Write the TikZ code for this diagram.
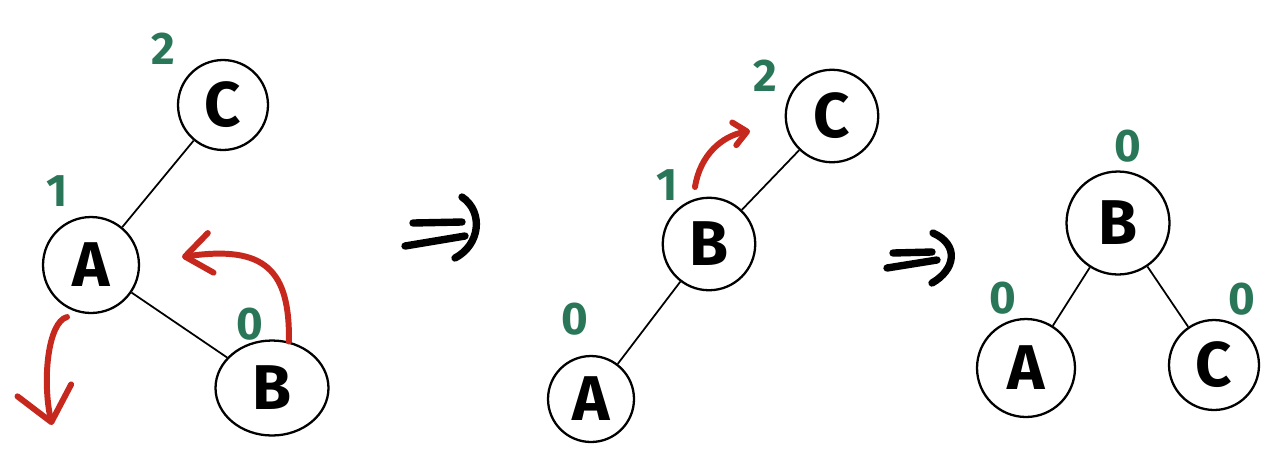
\documentclass[tikz,border=0pt]{standalone}
\usepackage{fontspec}
\setmainfont{Fira Sans}
\usepackage{xcolor}
\usetikzlibrary{arrows.meta,shapes.geometric}
\definecolor{hgreen}{RGB}{42,118,88}
\definecolor{hred}{RGB}{198,40,30}

\begin{document}
\begin{tikzpicture}[x=0.02cm,y=-0.02cm,
  vtx/.style={draw,circle,inner sep=0pt,line width=1.3pt,
    font=\fontsize{36}{36}\selectfont\bfseries},
  edge/.style={line width=1pt},
  hgt/.style={text=hgreen,inner sep=0pt,
    font=\fontsize{26}{26}\selectfont\bfseries},
  rot/.style={hred,line width=3.4pt,line cap=round},
  impl/.style={line width=4.2pt,line cap=round}]
\useasboundingbox (0,0) rectangle (1280,464);
% before: A is left heavy, its right child B
\node[vtx,minimum size=1.8cm] (c1) at (223,105) {C};
\node[vtx,minimum size=1.92cm] (a1) at (91,265) {A};
\node[vtx,ellipse,minimum width=2.26cm,minimum height=1.9cm] (b1) at (272,388) {B};
\draw[edge] (a1)--(c1); \draw[edge] (a1)--(b1);
\node[hgt] (h2c1) at (163,49) {2};
\node[hgt] (h1a1) at (57,191) {1};
\node[hgt] (h0b1) at (250,324) {0};
\coordinate (tipb1) at (182,257);
\coordinate (srca1) at (67,317);
\coordinate (tipa1) at (52,425);
\draw[rot,-{Straight Barb[round,length=5.2mm,width=8mm]}]
  (b1.70) .. controls (290,270) and (265,245) .. (tipb1);
\draw[rot,-{Straight Barb[round,length=6.5mm,width=11mm]}]
  (srca1) .. controls (48,322) and (42,380) .. (tipa1);
% first implication
\draw[impl] (413,223) -- (462,222);
\draw[impl] (405,246) -- (465,236);
\draw[impl] (462,197) .. controls (484,212) and (480,245) .. (455,258);
% middle: left-left chain
\node[vtx,minimum size=1.85cm] (c2) at (832,116) {C};
\node[vtx,minimum size=1.85cm] (b2) at (709,244) {B};
\node[vtx,minimum size=1.72cm] (a2) at (591,399) {A};
\draw[edge] (b2)--(c2); \draw[edge] (a2)--(b2);
\node[hgt] (h2c2) at (765,76) {2};
\node[hgt] (h1b2) at (667,185) {1};
\node[hgt] (h0a2) at (575,319) {0};
\coordinate (srcb2) at (695,187);
\coordinate (tipb2) at (750,131);
\draw[rot,-{Straight Barb[round,length=2.6mm,width=4.6mm]}]
  (srcb2) .. controls (700,155) and (722,136) .. (tipb2);
% second implication
\draw[impl] (893,253) -- (932,252);
\draw[impl] (887,268) -- (937,260);
\draw[impl] (933,233) .. controls (960,245) and (955,270) .. (932,283);
% after: balanced
\node[vtx,minimum size=2.06cm] (b3) at (1118,223) {B};
\node[vtx,minimum size=1.96cm] (a3) at (1026,368) {A};
\node[vtx,minimum size=1.8cm] (c3) at (1214,365) {C};
\draw[edge] (b3)--(a3); \draw[edge] (b3)--(c3);
\node[hgt] (h0b3) at (1128,146) {0};
\node[hgt] (h0a3) at (1003,298) {0};
\node[hgt] (h0c3) at (1242,299) {0};
\end{tikzpicture}
\end{document}
